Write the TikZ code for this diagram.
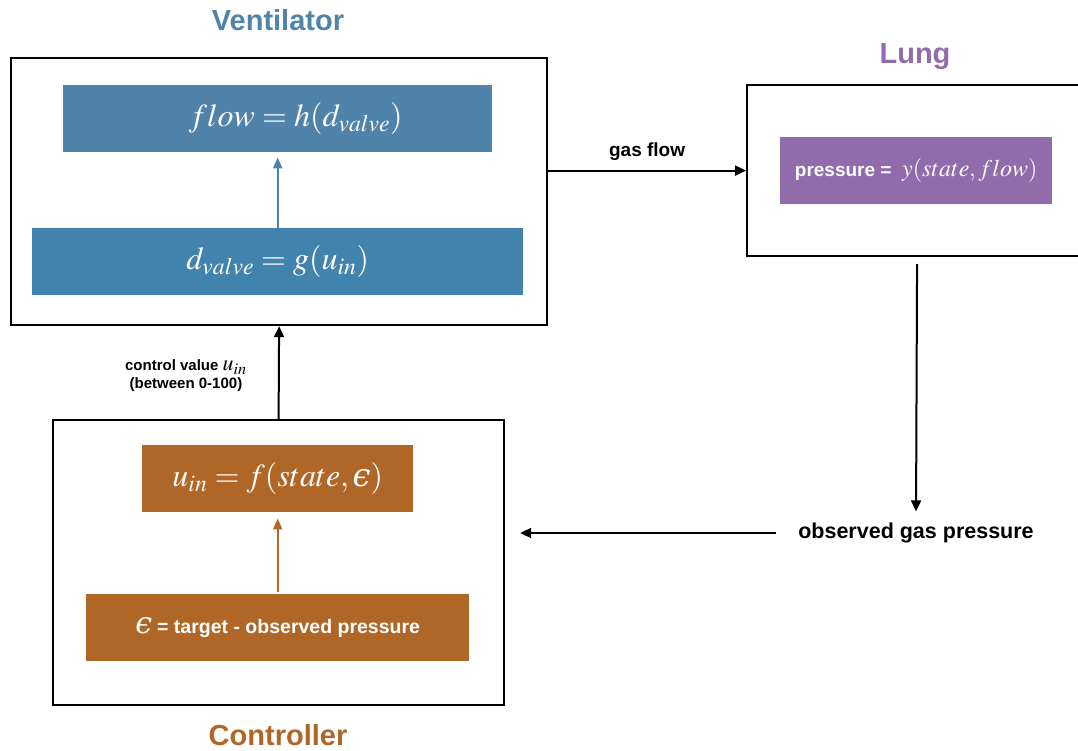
\documentclass[tikz,border=0pt]{standalone}
\usepackage{mathptmx}
\usepackage{fontspec}
\setmainfont{Liberation Sans}
\newfontfamily\greekserif{DejaVu Serif}
\usetikzlibrary{arrows.meta,positioning}
\newcommand{\lunate}{\mbox{\greekserif\itshape ϵ}}
\definecolor{ventblue}{RGB}{80,131,170}
\definecolor{valveblue}{RGB}{66,131,174}
\definecolor{lungpurple}{RGB}{146,107,172}
\definecolor{ctrlorange}{RGB}{176,102,38}
\begin{document}
\begin{tikzpicture}[x=1pt,y=-1pt,
  frame/.style={draw=black,line width=2.2pt,anchor=north west,inner sep=0pt},
  fbox/.style={anchor=north west,inner sep=0pt,minimum height=67pt,text=white},
  title/.style={font=\bfseries\fontsize{29}{31}\selectfont},
  conn/.style={line width=2pt,-{Triangle[length=11pt,width=10pt]}},
  innerarrow/.style={line width=2pt,-{Triangle[length=11pt,width=9pt]}},
  lab/.style={font=\bfseries\fontsize{15}{17}\selectfont,align=center}]
\useasboundingbox (0,0) rectangle (1078,751);

%Ventilator
\node[frame,minimum width=536pt,minimum height=267pt] (vent) at (10,57) {};
\node[title,text=ventblue] (venttitle) at (278,20) {Ventilator};
\node[fbox,fill=ventblue,minimum width=429pt] (flow) at (63,85)
  {\fontsize{32}{34}\selectfont\hspace*{36pt}\raisebox{-3pt}{$flow = h(d_{valve})$}};
\node[fbox,fill=valveblue,minimum width=491pt] (valve) at (32,228)
  {\fontsize{32}{34}\selectfont\raisebox{-3pt}{$d_{valve} = g(u_{in})$}};
\draw[innerarrow,ventblue,shorten >=5pt] (valve.north) -- (flow.south);

%Lung
\node[frame,minimum width=340pt,minimum height=171pt] (lung) at (746,84) {};
\node[title,text=lungpurple] (lungtitle) at (915,57) {Lung};
\node[fbox,fill=lungpurple,minimum width=272pt] (press) at (780,137)
  {\bfseries\fontsize{19}{21}\selectfont pressure = \ \fontsize{24}{26}\selectfont$y(state,flow)$};

%Controller
\node[frame,minimum width=451pt,minimum height=285pt] (ctrl) at (52,419) {};
\node[title,text=ctrlorange] (ctrltitle) at (278,735) {Controller};
\node[fbox,fill=ctrlorange,minimum width=271pt] (uin) at (142,445)
  {\fontsize{32}{34}\selectfont\raisebox{-3pt}{$u_{in} = f(state,\lunate)$}};
\node[fbox,fill=ctrlorange,minimum width=383pt] (eps) at (86,594)
  {\raisebox{-8pt}{\fontsize{30}{32}\selectfont\lunate\,\bfseries\fontsize{19.5}{21}\selectfont = target - observed pressure}};
\draw[innerarrow,ctrlorange,shorten <=2pt,shorten >=6pt] (eps.north) -- (uin.south);

%Les liaisons
\draw[conn] (lung.west -| vent.east) -- node[above=6pt,font=\bfseries\fontsize{19}{21}\selectfont] (gasflow) {gas flow} (lung.west);
\node[font=\bfseries\fontsize{21.5}{23}\selectfont] (obs) at (916,533) {observed gas pressure};
\draw[conn,shorten <=7pt,shorten >=8pt] (lung.south) -- (obs.north);
\draw[conn,shorten <=19pt,shorten >=15pt] (obs.west) -- (obs.west -| ctrl.east);
\draw[conn] (ctrl.north) -- (vent.south);
\node[lab] (ctrlval) at (186,376) {control value {\fontsize{22}{24}\selectfont$u_{in}$}\\[1pt](between 0-100)};

\end{tikzpicture}
\end{document}
